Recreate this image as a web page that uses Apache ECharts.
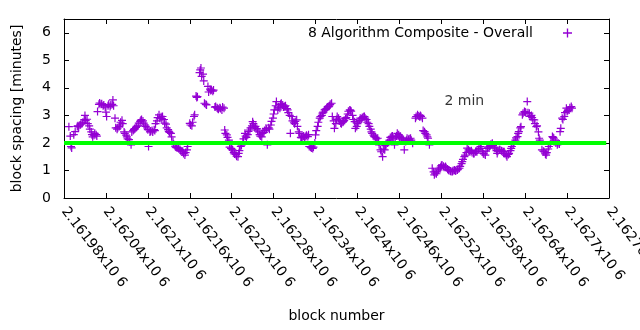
<!DOCTYPE html>
<html>
<head>
<meta charset="utf-8">
<script src="https://cdn.jsdelivr.net/npm/echarts@6/dist/echarts.min.js"></script>
<style>
html,body{margin:0;padding:0;background:#fff;}
#chart{width:640px;height:330px;}
</style>
</head>
<body>
<div id="chart"></div>
<script>
// ---- data ----
const seriesName = '8 Algorithm Composite - Overall';
const xTickLabels = ['2.16198x10 6','2.16204x10 6','2.1621x10 6','2.16216x10 6','2.16222x10 6','2.16228x10 6','2.16234x10 6','2.1624x10 6','2.16246x10 6','2.16252x10 6','2.16258x10 6','2.16264x10 6','2.1627x10 6','2.16276x10 6'];
const xMin = 2161980, xMax = 2162760, xStep = 60;
const yTickValues = [0, 1, 2, 3, 4, 5, 6];

const blockNumbers = [
2161987,2161989,2161990,2161991,2161994,2161996,2161999,2162000,2162001,2162003,
2162004,2162006,2162007,2162009,2162010,2162011,2162013,2162014,2162016,2162017,
2162019,2162020,2162021,2162023,2162024,2162026,2162027,2162028,2162030,2162031,
2162033,2162034,2162036,2162037,2162039,2162040,2162041,2162043,2162044,2162046,
2162047,2162049,2162050,2162051,2162053,2162054,2162056,2162057,2162059,2162060,
2162061,2162063,2162064,2162066,2162067,2162069,2162070,2162071,2162073,2162074,
2162076,2162077,2162079,2162080,2162081,2162083,2162084,2162086,2162087,2162089,
2162090,2162091,2162093,2162094,2162096,2162097,2162099,2162100,2162101,2162103,
2162104,2162106,2162107,2162109,2162110,2162111,2162113,2162114,2162116,2162117,
2162119,2162120,2162121,2162123,2162124,2162126,2162127,2162129,2162130,2162131,
2162133,2162134,2162136,2162137,2162139,2162140,2162141,2162143,2162144,2162146,
2162147,2162149,2162150,2162151,2162153,2162154,2162156,2162157,2162160,2162161,
2162163,2162164,2162166,2162167,2162169,2162170,2162171,2162174,2162175,2162176,
2162177,2162179,2162180,2162181,2162183,2162184,2162186,2162187,2162189,2162190,
2162191,2162193,2162194,2162196,2162197,2162199,2162200,2162201,2162203,2162204,
2162206,2162207,2162209,2162210,2162211,2162213,2162214,2162216,2162217,2162219,
2162220,2162221,2162223,2162224,2162226,2162227,2162229,2162230,2162231,2162233,
2162234,2162236,2162237,2162239,2162240,2162241,2162243,2162244,2162246,2162247,
2162249,2162250,2162251,2162253,2162254,2162256,2162257,2162259,2162260,2162261,
2162263,2162264,2162266,2162267,2162269,2162270,2162271,2162273,2162274,2162276,
2162277,2162279,2162280,2162281,2162283,2162284,2162286,2162287,2162289,2162290,
2162291,2162293,2162294,2162296,2162297,2162299,2162300,2162301,2162303,2162304,
2162306,2162307,2162309,2162310,2162311,2162313,2162314,2162316,2162317,2162319,
2162320,2162321,2162323,2162324,2162326,2162327,2162329,2162330,2162331,2162333,
2162334,2162336,2162337,2162339,2162340,2162341,2162343,2162344,2162346,2162347,
2162349,2162350,2162351,2162353,2162354,2162356,2162357,2162359,2162360,2162361,
2162363,2162364,2162366,2162367,2162369,2162370,2162371,2162373,2162374,2162376,
2162377,2162379,2162380,2162381,2162383,2162384,2162386,2162387,2162389,2162390,
2162391,2162393,2162394,2162396,2162397,2162399,2162400,2162401,2162403,2162404,
2162406,2162407,2162409,2162410,2162411,2162413,2162414,2162416,2162417,2162419,
2162420,2162421,2162423,2162424,2162426,2162427,2162429,2162430,2162431,2162433,
2162434,2162436,2162437,2162439,2162440,2162441,2162443,2162444,2162446,2162447,
2162449,2162450,2162451,2162453,2162454,2162456,2162457,2162459,2162460,2162461,
2162463,2162464,2162466,2162467,2162469,2162470,2162471,2162473,2162474,2162476,
2162477,2162479,2162483,2162484,2162486,2162487,2162489,2162490,2162491,2162493,
2162494,2162496,2162497,2162499,2162500,2162501,2162503,2162507,2162509,2162510,
2162511,2162513,2162514,2162516,2162517,2162519,2162520,2162521,2162523,2162524,
2162526,2162527,2162529,2162530,2162531,2162533,2162534,2162536,2162537,2162539,
2162540,2162541,2162543,2162544,2162546,2162547,2162549,2162550,2162551,2162553,
2162554,2162556,2162557,2162559,2162560,2162561,2162563,2162564,2162566,2162567,
2162569,2162570,2162571,2162573,2162574,2162576,2162577,2162579,2162580,2162581,
2162583,2162584,2162586,2162587,2162589,2162590,2162591,2162593,2162594,2162596,
2162597,2162599,2162600,2162601,2162603,2162604,2162606,2162607,2162609,2162610,
2162611,2162613,2162614,2162616,2162617,2162619,2162620,2162621,2162623,2162624,
2162626,2162627,2162629,2162630,2162631,2162633,2162634,2162636,2162637,2162639,
2162640,2162641,2162643,2162644,2162646,2162647,2162649,2162650,2162651,2162653,
2162654,2162656,2162657,2162659,2162660,2162661,2162664,2162666,2162667,2162669,
2162670,2162671,2162673,2162674,2162676,2162677,2162679,2162680,2162681,2162683,
2162684,2162686,2162687,2162689,2162690,2162691,2162693,2162694,2162696,2162697,
2162699,2162700,2162701,2162703,2162704,2162706,2162707
];

const spacingMinutes = [
2.59,2.25,1.87,1.82,2.30,2.41,2.60,2.62,2.58,2.65,
2.68,2.72,2.75,2.85,3.00,2.82,2.86,2.70,2.62,2.50,
2.40,2.30,2.22,2.28,2.35,2.30,2.25,3.14,3.40,3.45,
3.40,3.42,3.35,3.38,3.30,3.12,2.96,3.35,3.40,3.32,
3.38,3.40,3.56,3.35,2.90,2.55,2.50,2.55,2.60,2.65,
2.75,2.82,2.70,2.40,2.35,2.28,2.22,2.15,2.12,2.05,
1.93,2.40,2.45,2.48,2.52,2.56,2.60,2.62,2.72,2.78,
2.82,2.85,2.80,2.72,2.65,2.60,2.55,2.48,1.87,2.40,
2.42,2.45,2.40,2.48,2.45,2.70,2.80,2.92,3.02,2.90,
2.95,2.88,2.96,2.85,2.72,2.68,2.55,2.48,2.42,2.38,
2.35,2.22,2.05,1.95,1.88,1.85,1.83,1.82,1.80,1.76,
1.72,1.68,1.70,1.62,1.56,1.65,1.75,1.87,2.71,2.65,
2.62,2.75,2.96,3.02,3.70,3.65,3.68,4.55,4.65,4.72,
4.42,4.50,4.25,3.44,3.40,3.38,4.05,3.85,3.95,3.90,
3.93,3.88,3.92,3.30,3.32,3.28,3.25,3.22,3.28,3.25,
3.20,3.30,3.26,2.47,2.35,2.29,2.20,2.10,1.85,1.80,
1.78,1.75,1.65,1.60,1.58,1.52,1.50,1.62,1.72,1.87,
1.92,2.05,2.15,2.35,2.25,2.20,2.30,2.42,2.47,2.55,
2.62,2.77,2.70,2.55,2.60,2.52,2.47,2.40,2.30,2.25,
2.22,2.35,2.38,2.45,2.53,2.50,1.93,2.55,2.50,2.65,
2.78,2.90,3.05,3.20,3.35,3.50,3.20,3.30,3.26,3.40,
3.44,3.38,3.30,3.32,3.35,3.25,3.20,3.10,3.00,2.35,
2.96,2.80,2.75,2.70,2.78,2.84,2.60,2.40,2.35,2.20,
2.18,2.22,2.25,2.20,2.23,2.28,2.23,2.30,1.87,1.85,
1.82,1.80,1.85,2.00,2.29,2.45,2.60,2.75,2.90,2.96,
3.00,3.08,3.12,3.20,3.22,3.25,3.30,3.32,3.35,3.40,
3.44,2.96,2.80,2.53,2.70,2.85,2.96,2.90,2.80,2.72,
2.70,2.75,2.78,2.82,2.88,2.92,3.05,3.15,3.20,3.18,
3.15,3.00,2.85,2.77,2.53,2.60,2.70,2.75,2.82,2.90,
2.88,2.92,2.95,2.96,2.90,2.85,2.75,2.70,2.60,2.50,
2.40,2.35,2.28,2.23,2.20,2.15,2.17,2.05,1.93,1.75,
1.68,1.50,1.78,1.75,1.90,1.95,2.00,2.05,2.10,2.20,
2.23,2.25,2.18,1.93,2.15,2.25,2.35,2.30,2.20,2.25,
2.18,2.15,2.10,1.75,2.05,2.10,2.17,2.12,2.15,2.17,
2.10,1.99,2.90,2.96,3.02,2.98,2.95,3.00,2.96,2.90,
2.45,2.41,2.35,2.29,2.22,2.17,1.93,1.08,0.95,0.84,
0.90,0.88,0.95,1.02,1.08,1.12,1.18,1.20,1.15,1.12,
1.14,1.10,1.05,1.02,1.00,0.98,0.96,0.96,1.00,1.02,
0.98,1.00,1.02,1.05,1.08,1.15,1.25,1.32,1.40,1.50,
1.56,1.65,1.81,1.75,1.70,1.68,1.72,1.65,1.62,1.62,
1.68,1.70,1.68,1.75,1.80,1.87,1.80,1.68,1.62,1.60,
1.56,1.70,1.80,1.85,1.87,1.90,1.95,1.99,1.90,1.85,
1.81,1.72,1.62,1.70,1.75,1.75,1.72,1.70,1.68,1.68,
1.62,1.55,1.50,1.58,1.62,1.72,1.80,1.87,1.95,2.02,
2.10,2.18,2.23,2.35,2.41,2.55,2.59,3.02,3.08,3.14,
3.12,3.10,3.50,3.10,3.08,2.96,3.00,2.92,2.85,2.84,
2.70,2.59,2.62,2.40,2.17,2.10,1.75,1.70,1.68,1.60,
1.56,1.65,1.78,1.87,1.95,2.05,2.23,2.20,2.17,2.10,
2.00,1.93,1.98,1.96,2.41,2.53,2.90,2.85,2.96,3.10,
3.26,3.14,3.18,3.20,3.28,3.32,3.26
];

// 2-minute target line
const refBlocks = [2161980, 2162756];
const refMinutes = [2, 2];
const refLabel = '2 min';
const refLabelBlock = 2162553, refLabelMinutes = 3.5;

// ---- chart ----
const FONT = 'DejaVu Sans';
const plusPath = 'path://M3.4,0H4.6V3.4H8V4.6H4.6V8H3.4V4.6H0V3.4H3.4Z';
const chart = echarts.init(document.getElementById('chart'), null, {renderer: 'canvas'});

const axisCommon = {
  axisLine: {show: true, onZero: false, lineStyle: {color: '#000', width: 1}},
  axisTick: {show: true, inside: true, length: 5, lineStyle: {color: '#000', width: 1}},
  splitLine: {show: false}
};

const option = {
  animation: false,
  backgroundColor: '#fff',
  textStyle: {fontFamily: FONT},
  grid: {left: 64, right: 31, top: 19, bottom: 132, containLabel: false, outerBoundsMode: 'none'},
  legend: {
    data: [{name: seriesName, icon: plusPath}],
    align: 'right',
    right: 63,
    top: 21,
    itemWidth: 9,
    itemHeight: 9,
    selectedMode: false,
    textStyle: {fontFamily: FONT, fontSize: 14, color: '#000', padding: [0, 25, 0, 0]}
  },
  xAxis: [
    Object.assign({}, axisCommon, {
      type: 'value', min: xMin, max: xMax, interval: xStep, position: 'bottom',
      name: 'block number', nameLocation: 'middle', nameGap: 111,
      nameTextStyle: {fontFamily: FONT, fontSize: 14, color: '#000'},
      axisLabel: {
        show: true, rotate: -52, margin: 11, fontFamily: FONT, fontSize: 14, color: '#000',
        showMaxLabel: true, showMinLabel: true, hideOverlap: false,
        formatter: v => xTickLabels[Math.round((v - xMin) / xStep)] || ''
      }
    }),
    Object.assign({}, axisCommon, {
      type: 'value', min: xMin, max: xMax, interval: xStep, position: 'top',
      axisLabel: {show: false}
    })
  ],
  yAxis: [
    Object.assign({}, axisCommon, {
      type: 'value', min: 0, max: 6.5, interval: 1, position: 'left',
      name: 'block spacing [minutes]', nameLocation: 'middle', nameGap: 40,
      nameTextStyle: {fontFamily: FONT, fontSize: 14, color: '#000'},
      axisLabel: {
        show: true, margin: 13, fontFamily: FONT, fontSize: 14, color: '#000',
        formatter: v => (yTickValues.indexOf(v) >= 0 ? String(v) : '')
      }
    }),
    Object.assign({}, axisCommon, {
      type: 'value', min: 0, max: 6.5, interval: 1, position: 'right',
      axisLabel: {show: false}
    })
  ],
  series: [
    {
      name: seriesName,
      type: 'scatter',
      symbol: plusPath,
      symbolSize: 8,
      itemStyle: {color: '#9400d3', opacity: 1},
      data: blockNumbers.map((b, i) => [b, spacingMinutes[i]]),
      z: 2,
      silent: true
    },
    {
      name: refLabel,
      type: 'line',
      data: refBlocks.map((b, i) => [b, refMinutes[i]]),
      symbol: 'none',
      lineStyle: {color: '#00ff00', width: 4},
      z: 3,
      silent: true
    },
    {
      name: 'label',
      type: 'scatter',
      symbolSize: 0,
      data: [[refLabelBlock, refLabelMinutes]],
      label: {show: true, position: 'inside', formatter: refLabel, fontFamily: FONT, fontSize: 14, color: '#000'},
      silent: true
    }
  ]
};
chart.setOption(option);
</script>
</body>
</html>
